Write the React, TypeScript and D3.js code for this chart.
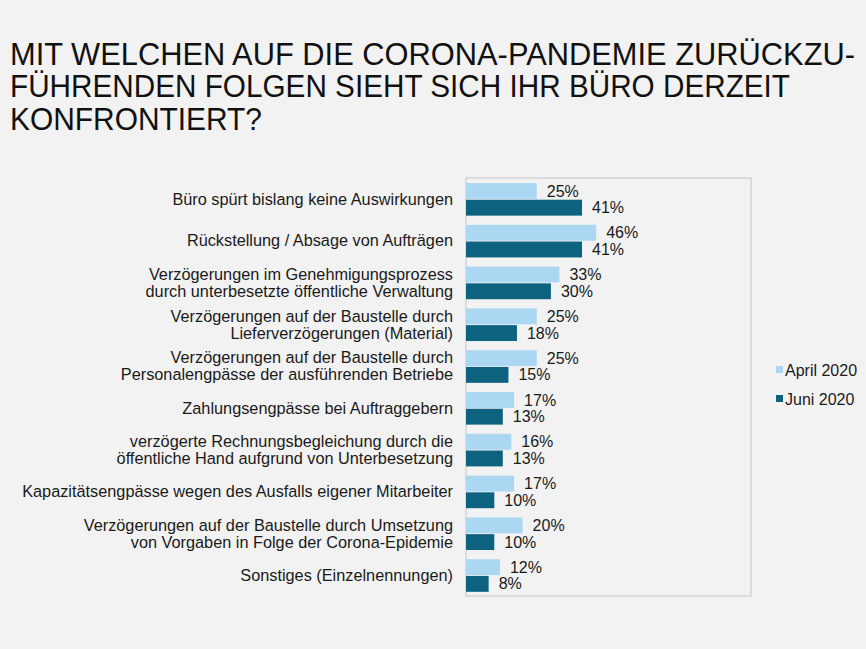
import React from "react";
import * as d3 from "d3";

const titleLines = [
  "MIT WELCHEN AUF DIE CORONA-PANDEMIE ZURÜCKZU-",
  "FÜHRENDEN FOLGEN SIEHT SICH IHR BÜRO DERZEIT",
  "KONFRONTIERT?",
];
const titleWidths = [845, 780, 252];

const categories: string[][] = [
  ["Büro spürt bislang keine Auswirkungen"],
  ["Rückstellung / Absage von Aufträgen"],
  ["Verzögerungen im Genehmigungsprozess", "durch unterbesetzte öffentliche Verwaltung"],
  ["Verzögerungen auf der Baustelle durch", "Lieferverzögerungen (Material)"],
  ["Verzögerungen auf der Baustelle durch", "Personalengpässe der ausführenden Betriebe"],
  ["Zahlungsengpässe bei Auftraggebern"],
  ["verzögerte Rechnungsbegleichung durch die", "öffentliche Hand aufgrund von Unterbesetzung"],
  ["Kapazitätsengpässe wegen des Ausfalls eigener Mitarbeiter"],
  ["Verzögerungen auf der Baustelle durch Umsetzung", "von Vorgaben in Folge der Corona-Epidemie"],
  ["Sonstiges (Einzelnennungen)"],
];
const april2020 = [25, 46, 33, 25, 25, 17, 16, 17, 20, 12];
const juni2020 = [41, 41, 30, 18, 15, 13, 13, 10, 10, 8];
const seriesNames = ["April 2020", "Juni 2020"];
const colors = ["#abd7f2", "#0d6280"];

const W = 866;
const H = 649;
const plot = { left: 466, right: 751, top: 178, bottom: 596 };

export default function App() {
  const x = d3.scaleLinear().domain([0, 100]).range([plot.left, plot.left + 283]);
  const idx = categories.map((_, i) => i);
  const y = d3
    .scaleBand<number>()
    .domain(idx)
    .range([plot.top, plot.bottom])
    .paddingInner(0)
    .paddingOuter(0);
  const bw = y.bandwidth();
  const sub = d3
    .scaleBand<number>()
    .domain([0, 1])
    .range([bw * 0.12, bw * 0.9])
    .paddingInner(0.05);
  const series = [april2020, juni2020];
  const font = "'Liberation Sans', Arial, sans-serif";

  return (
    <div style={{ position: "fixed", left: 0, top: 0, width: W, height: H }}>
      <svg width={W} height={H} style={{ display: "block" }}>
        <rect x={0} y={0} width={W} height={H} fill="#f2f2f2" />
        <text
          fontFamily="'Liberation Sans Narrow', 'Arial Narrow', 'Liberation Sans', sans-serif"
          fontSize={30.5}
          fill="#111"
        >
          {titleLines.map((t, i) => (
            <tspan
              key={i}
              x={10}
              y={64.5 + i * 32.5}
              textLength={titleWidths[i]}
              lengthAdjust="spacingAndGlyphs"
            >
              {t}
            </tspan>
          ))}
        </text>
        <rect
          x={plot.left}
          y={plot.top}
          width={plot.right - plot.left}
          height={plot.bottom - plot.top}
          fill="none"
          stroke="#c4c4c4"
          strokeWidth={1}
        />
        {idx.map((i) => {
          const y0 = y(i)!;
          const lines = categories[i];
          const cy = y0 + bw / 2;
          const lh = 17;
          return (
            <g key={i}>
              {lines.map((l, j) => (
                <text
                  key={j}
                  x={453}
                  y={cy + (j - (lines.length - 1) / 2) * lh}
                  dy="0.35em"
                  textAnchor="end"
                  fontFamily={font}
                  fontSize={16.3}
                  fill="#1a1a1a"
                >
                  {l}
                </text>
              ))}
              {series.map((s, k) => {
                const by = y0 + sub(k)!;
                const bh = sub.bandwidth();
                return (
                  <g key={k}>
                    <rect
                      x={x(0)}
                      y={by}
                      width={x(s[i]) - x(0)}
                      height={bh}
                      fill={colors[k]}
                    />
                    <text
                      x={x(s[i]) + 10}
                      y={by + bh / 2}
                      dy="0.35em"
                      fontFamily={font}
                      fontSize={16}
                      fill="#1a1a1a"
                    >
                      {s[i]}%
                    </text>
                  </g>
                );
              })}
            </g>
          );
        })}
        {seriesNames.map((n, k) => (
          <g key={n}>
            <rect x={776} y={366 + k * 29} width={7} height={7} fill={colors[k]} />
            <text
              x={785}
              y={370 + k * 29}
              dy="0.35em"
              fontFamily={font}
              fontSize={16}
              fill="#1a1a1a"
            >
              {n}
            </text>
          </g>
        ))}
      </svg>
    </div>
  );
}
